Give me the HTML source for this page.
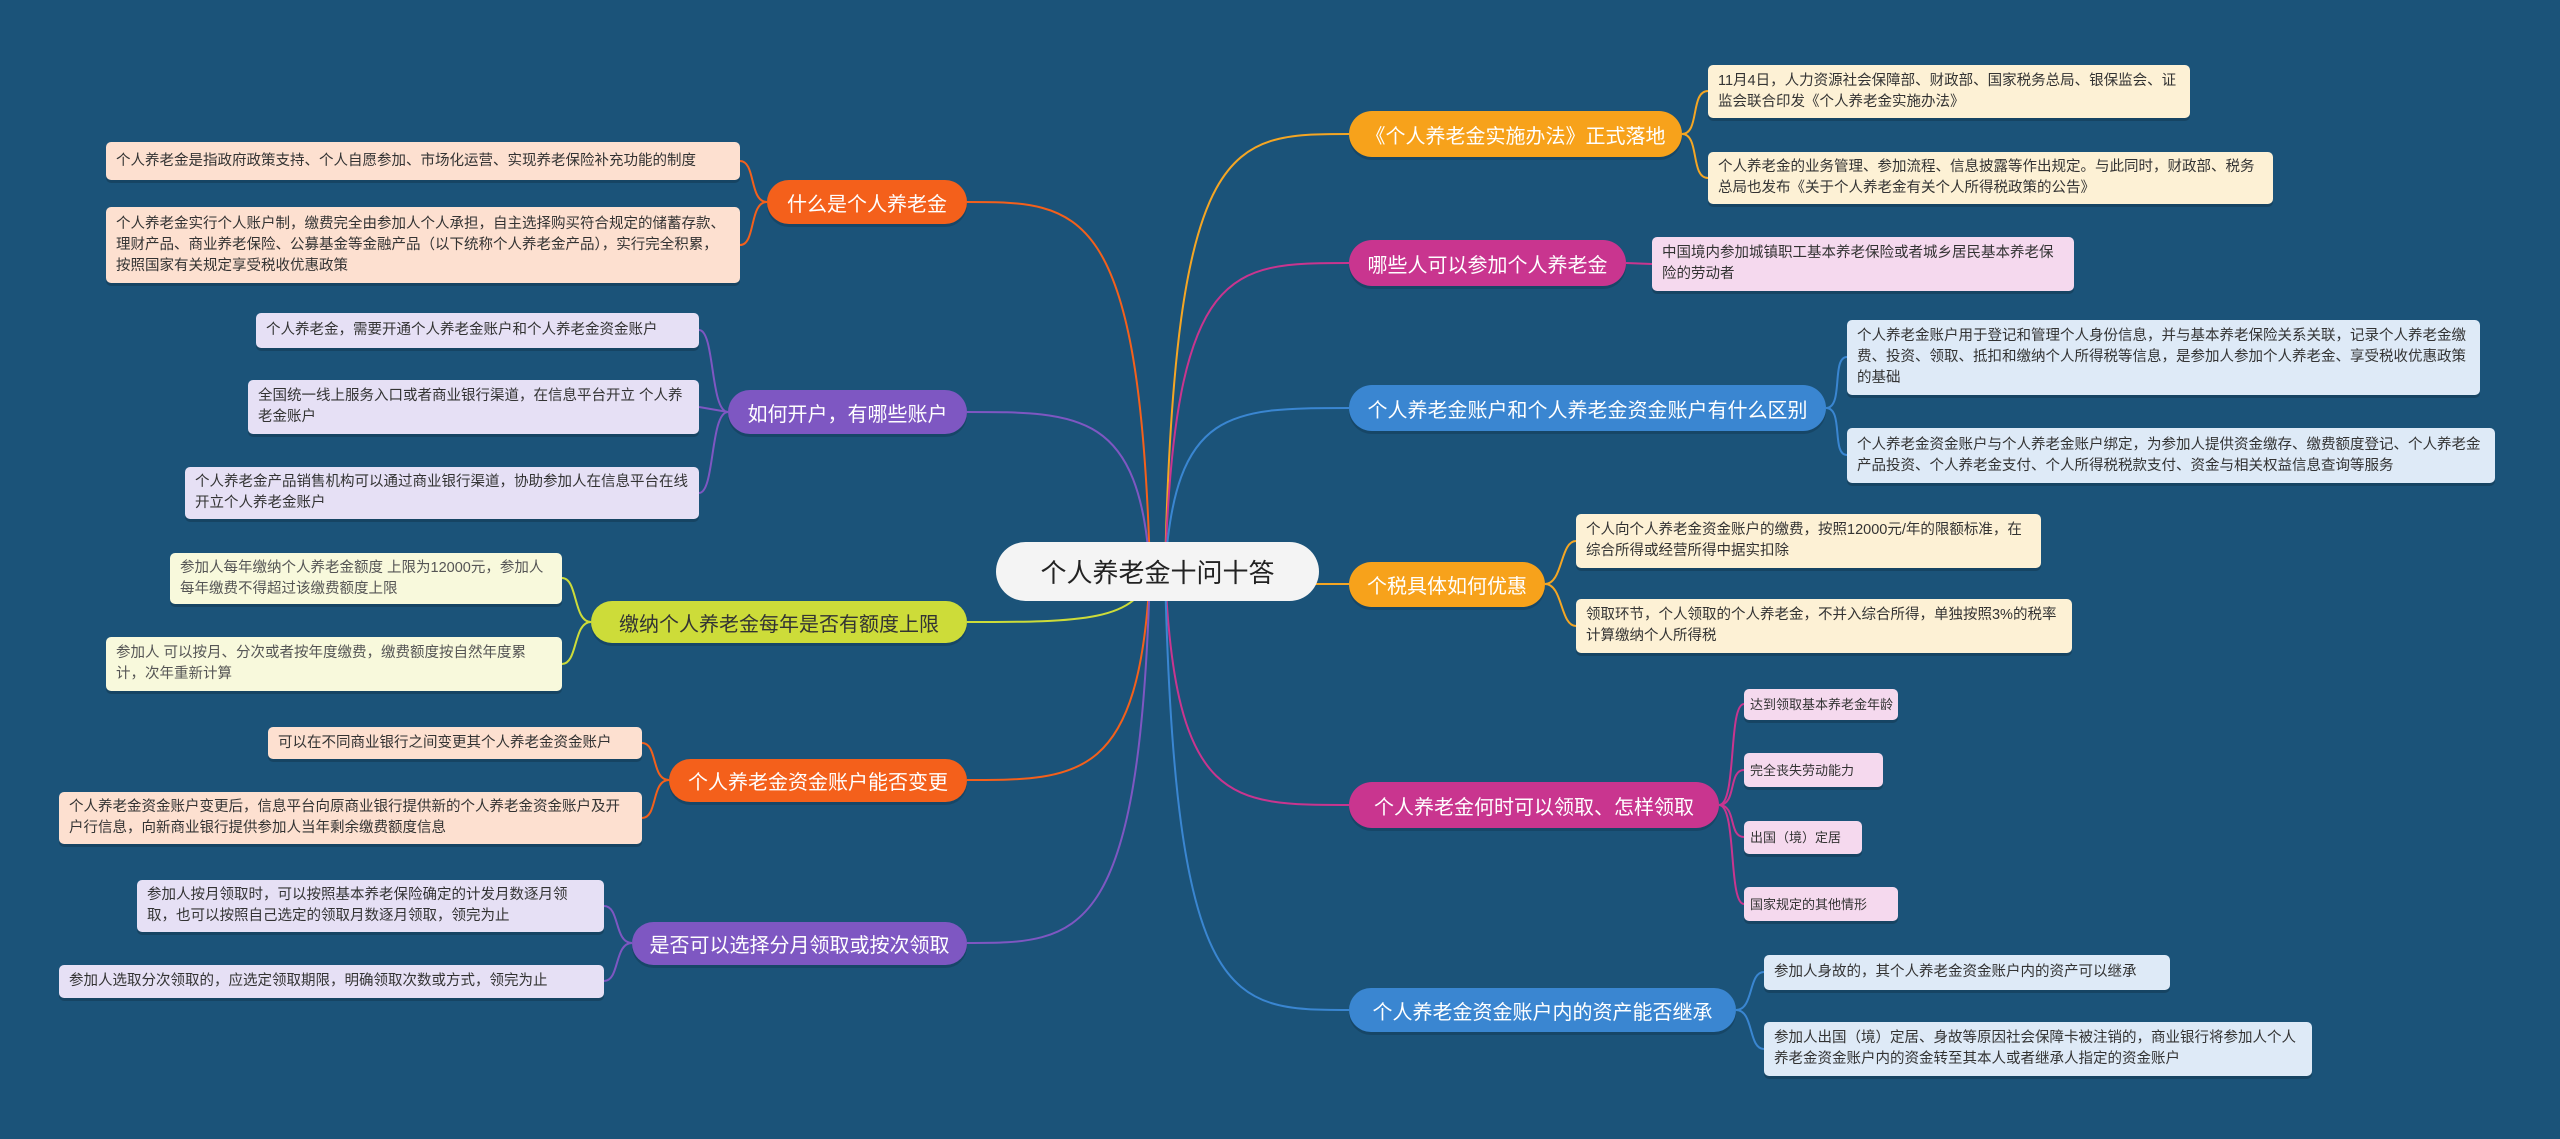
<!DOCTYPE html>
<html><head><meta charset="utf-8"><style>
body{margin:0;width:2560px;height:1139px;background:#1b5379;overflow:hidden;position:relative;font-family:"Liberation Sans","Noto Sans CJK SC",sans-serif}
.b{position:absolute;border-radius:24px;color:#fff;font-size:20px;display:flex;align-items:center;justify-content:center;white-space:nowrap;box-shadow:0 3px 0 rgba(0,0,0,.15)}
.c{position:absolute;border-radius:5px;color:#333;font-size:14.5px;line-height:21px;padding:5px 10px;box-sizing:border-box;display:flex;align-items:center;box-shadow:0 3px 0 rgba(0,0,0,.18)}
.s{white-space:nowrap;padding:0 6px;font-size:13px}
svg{position:absolute;left:0;top:0}
.ctr{position:absolute;left:996px;top:542px;width:323px;height:59px;border-radius:30px;background:#f4f4f4;color:#222;font-size:26px;display:flex;align-items:center;justify-content:center}
</style></head><body>
<svg width="2560" height="1139" fill="none" stroke-width="2">
<path d="M1165 571 C1175 134 1230 134 1349 134" stroke="#f5a623"/>
<path d="M1165 571 C1175 263 1230 263 1349 263" stroke="#c9358f"/>
<path d="M1165 571 C1175 408 1230 408 1349 408" stroke="#3a86d1"/>
<path d="M1165 571 C1175 584 1230 584 1349 584" stroke="#f5a623"/>
<path d="M1165 571 C1175 805 1230 805 1349 805" stroke="#c9358f"/>
<path d="M1165 571 C1175 1010 1230 1010 1349 1010" stroke="#3a86d1"/>
<path d="M1150 571 C1140 202 1080 202 967 202" stroke="#f4601b"/>
<path d="M1150 571 C1140 412 1080 412 967 412" stroke="#7e57c2"/>
<path d="M1150 571 C1140 622 1080 622 967 622" stroke="#cddc39"/>
<path d="M1150 571 C1140 780 1080 780 967 780" stroke="#f4601b"/>
<path d="M1150 571 C1140 943 1080 943 967 943" stroke="#7e57c2"/>
<g stroke="#f5a623"><path d="M1682 134 C1700 134 1690 91 1708 91"/><path d="M1682 134 C1700 134 1690 178 1708 178"/></g>
<g stroke="#c9358f"><path d="M1626 263 L1652 264"/></g>
<g stroke="#3a86d1"><path d="M1826 408 C1844 408 1831 357 1847 357"/><path d="M1826 408 C1844 408 1831 455 1847 455"/></g>
<g stroke="#f5a623"><path d="M1545 584 C1563 584 1560 541 1576 541"/><path d="M1545 584 C1563 584 1560 626 1576 626"/></g>
<g stroke="#c9358f"><path d="M1719 805 C1737 805 1728 704 1744 704"/><path d="M1719 805 C1737 805 1728 770 1744 770"/><path d="M1719 805 C1737 805 1728 837 1744 837"/><path d="M1719 805 C1737 805 1728 904 1744 904"/></g>
<g stroke="#3a86d1"><path d="M1736 1010 C1754 1010 1748 972 1764 972"/><path d="M1736 1010 C1754 1010 1748 1049 1764 1049"/></g>
<g stroke="#f4601b"><path d="M767 202 C749 202 756 161 740 161"/><path d="M767 202 C749 202 756 245 740 245"/></g>
<g stroke="#7e57c2"><path d="M728 412 C710 412 715 330 699 330"/><path d="M728 412 L699 407"/><path d="M728 412 C710 412 715 493 699 493"/></g>
<g stroke="#cddc39"><path d="M591 622 C573 622 578 578 562 578"/><path d="M591 622 C573 622 578 664 562 664"/></g>
<g stroke="#f4601b"><path d="M669 780 C651 780 658 743 642 743"/><path d="M669 780 C651 780 658 818 642 818"/></g>
<g stroke="#7e57c2"><path d="M632 943 C614 943 620 906 604 906"/><path d="M632 943 C614 943 620 981 604 981"/></g>
</svg>
<div class="ctr">个人养老金十问十答</div>

<div class="b" style="left:1349px;top:111px;width:333px;height:46px;background:#f7a21b">《个人养老金实施办法》正式落地</div>
<div class="c" style="left:1708px;top:65px;width:482px;height:53px;background:#fdf1d5">11月4日，人力资源社会保障部、财政部、国家税务总局、银保监会、证监会联合印发《个人养老金实施办法》</div>
<div class="c" style="left:1708px;top:152px;width:565px;height:52px;background:#fdf1d5">个人养老金的业务管理、参加流程、信息披露等作出规定。与此同时，财政部、税务总局也发布《关于个人养老金有关个人所得税政策的公告》</div>

<div class="b" style="left:1349px;top:240px;width:277px;height:46px;background:#c9358f">哪些人可以参加个人养老金</div>
<div class="c" style="left:1652px;top:237px;width:422px;height:54px;background:#f5d9ee">中国境内参加城镇职工基本养老保险或者城乡居民基本养老保险的劳动者</div>

<div class="b" style="left:1349px;top:385px;width:477px;height:46px;background:#3a86d1">个人养老金账户和个人养老金资金账户有什么区别</div>
<div class="c" style="left:1847px;top:320px;width:633px;height:75px;background:#deeaf7">个人养老金账户用于登记和管理个人身份信息，并与基本养老保险关系关联，记录个人养老金缴费、投资、领取、抵扣和缴纳个人所得税等信息，是参加人参加个人养老金、享受税收优惠政策的基础</div>
<div class="c" style="left:1847px;top:428px;width:648px;height:55px;background:#deeaf7">个人养老金资金账户与个人养老金账户绑定，为参加人提供资金缴存、缴费额度登记、个人养老金产品投资、个人养老金支付、个人所得税税款支付、资金与相关权益信息查询等服务</div>

<div class="b" style="left:1349px;top:562px;width:196px;height:45px;background:#f7a21b">个税具体如何优惠</div>
<div class="c" style="left:1576px;top:514px;width:465px;height:54px;background:#fdf1d5">个人向个人养老金资金账户的缴费，按照12000元/年的限额标准，在综合所得或经营所得中据实扣除</div>
<div class="c" style="left:1576px;top:599px;width:496px;height:54px;background:#fdf1d5">领取环节，个人领取的个人养老金，不并入综合所得，单独按照3%的税率计算缴纳个人所得税</div>

<div class="b" style="left:1349px;top:782px;width:370px;height:46px;background:#c9358f">个人养老金何时可以领取、怎样领取</div>
<div class="c s" style="left:1744px;top:689px;width:154px;height:31px;background:#f5d9ee">达到领取基本养老金年龄</div>
<div class="c s" style="left:1744px;top:753px;width:139px;height:34px;background:#f5d9ee">完全丧失劳动能力</div>
<div class="c s" style="left:1744px;top:821px;width:118px;height:33px;background:#f5d9ee">出国（境）定居</div>
<div class="c s" style="left:1744px;top:887px;width:154px;height:34px;background:#f5d9ee">国家规定的其他情形</div>

<div class="b" style="left:1349px;top:988px;width:387px;height:44px;background:#3a86d1">个人养老金资金账户内的资产能否继承</div>
<div class="c" style="left:1764px;top:955px;width:406px;height:35px;background:#deeaf7">参加人身故的，其个人养老金资金账户内的资产可以继承</div>
<div class="c" style="left:1764px;top:1022px;width:548px;height:54px;background:#deeaf7">参加人出国（境）定居、身故等原因社会保障卡被注销的，商业银行将参加人个人养老金资金账户内的资金转至其本人或者继承人指定的资金账户</div>

<div class="b" style="left:767px;top:180px;width:200px;height:44px;background:#f4601b">什么是个人养老金</div>
<div class="c" style="left:106px;top:142px;width:634px;height:38px;background:#fde0d0">个人养老金是指政府政策支持、个人自愿参加、市场化运营、实现养老保险补充功能的制度</div>
<div class="c" style="left:106px;top:207px;width:634px;height:76px;background:#fde0d0">个人养老金实行个人账户制，缴费完全由参加人个人承担，自主选择购买符合规定的储蓄存款、理财产品、商业养老保险、公募基金等金融产品（以下统称个人养老金产品），实行完全积累，按照国家有关规定享受税收优惠政策</div>

<div class="b" style="left:728px;top:390px;width:239px;height:44px;background:#7e57c2">如何开户，有哪些账户</div>
<div class="c" style="left:256px;top:313px;width:443px;height:35px;background:#e6e0f5">个人养老金，需要开通个人养老金账户和个人养老金资金账户</div>
<div class="c" style="left:248px;top:380px;width:451px;height:54px;background:#e6e0f5">全国统一线上服务入口或者商业银行渠道，在信息平台开立 个人养老金账户</div>
<div class="c" style="left:185px;top:467px;width:514px;height:52px;background:#e6e0f5">个人养老金产品销售机构可以通过商业银行渠道，协助参加人在信息平台在线开立个人养老金账户</div>

<div class="b" style="left:591px;top:601px;width:376px;height:42px;background:#cddc39;color:#333">缴纳个人养老金每年是否有额度上限</div>
<div class="c" style="left:170px;top:553px;width:392px;height:51px;background:#f8f9dc;color:#555">参加人每年缴纳个人养老金额度 上限为12000元，参加人每年缴费不得超过该缴费额度上限</div>
<div class="c" style="left:106px;top:637px;width:456px;height:54px;background:#f8f9dc;color:#555">参加人 可以按月、分次或者按年度缴费，缴费额度按自然年度累计，次年重新计算</div>

<div class="b" style="left:669px;top:759px;width:298px;height:43px;background:#f4601b">个人养老金资金账户能否变更</div>
<div class="c" style="left:268px;top:727px;width:374px;height:32px;background:#fde0d0">可以在不同商业银行之间变更其个人养老金资金账户</div>
<div class="c" style="left:59px;top:792px;width:583px;height:52px;background:#fde0d0">个人养老金资金账户变更后，信息平台向原商业银行提供新的个人养老金资金账户及开户行信息，向新商业银行提供参加人当年剩余缴费额度信息</div>

<div class="b" style="left:632px;top:922px;width:335px;height:43px;background:#7e57c2">是否可以选择分月领取或按次领取</div>
<div class="c" style="left:137px;top:880px;width:467px;height:52px;background:#e6e0f5">参加人按月领取时，可以按照基本养老保险确定的计发月数逐月领取，也可以按照自己选定的领取月数逐月领取，领完为止</div>
<div class="c" style="left:59px;top:965px;width:545px;height:33px;background:#e6e0f5">参加人选取分次领取的，应选定领取期限，明确领取次数或方式，领完为止</div>
</body></html>
